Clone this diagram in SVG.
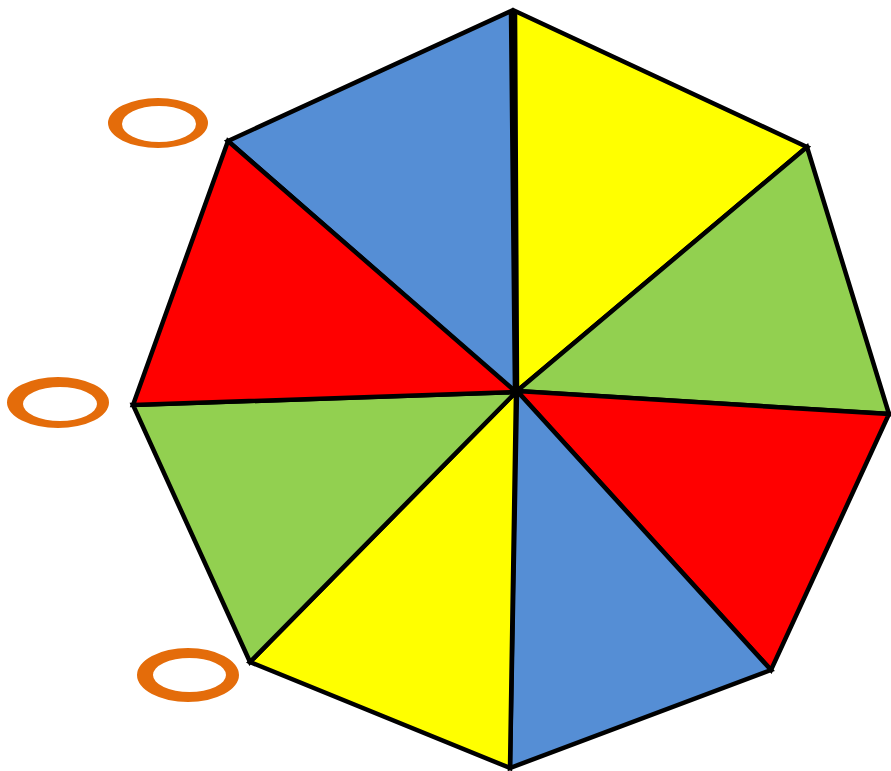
<svg xmlns="http://www.w3.org/2000/svg" width="891" height="771" viewBox="0 0 891 771">
<style>
.t{stroke:#000;stroke-width:4.5;stroke-linejoin:miter}
.b{fill:#558ED5}.y{fill:#FFFF00}.g{fill:#92D050}.r{fill:#FF0000}
.ring{fill:#E46C0A;fill-rule:evenodd}
</style>
<rect width="891" height="771" fill="#fff"/>
<g id="wheel">
<polygon class="t b" points="228,141 511,11 515,392"/>
<polygon class="t y" points="515,11 807,147 517,391"/>
<polygon class="t g" points="807,147 889,414 517,391"/>
<polygon class="t r" points="889,414 771,670 517,391"/>
<polygon class="t b" points="771,670 510,768 517,391"/>
<polygon class="t y" points="510,768 250,662 516,392"/>
<polygon class="t g" points="250,662 133,405 516,392"/>
<polygon class="t r" points="133,405 228,141 516,392"/>
</g>
<g id="rings">
<path class="ring" d="M108,123a50,25 0 1,0 100,0a50,25 0 1,0 -100,0ZM122,124a37,18 0 1,0 74,0a37,18 0 1,0 -74,0Z"/>
<path class="ring" d="M7,402.5a51,25.5 0 1,0 102,0a51,25.5 0 1,0 -102,0ZM23,404a37,17 0 1,0 74,0a37,17 0 1,0 -74,0Z"/>
<path class="ring" d="M137,675a51,27 0 1,0 102,0a51,27 0 1,0 -102,0ZM153,675a36.5,17 0 1,0 73,0a36.5,17 0 1,0 -73,0Z"/>
</g>
</svg>
